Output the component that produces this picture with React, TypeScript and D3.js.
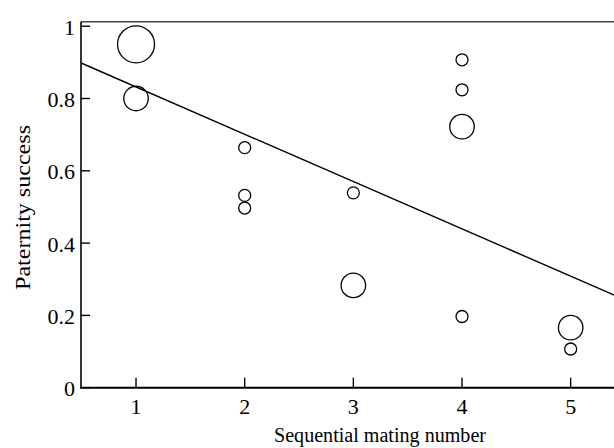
import React from "react";
import * as d3 from "d3";

const matingNumber = [1, 1, 2, 2, 2, 3, 3, 4, 4, 4, 4, 5, 5];
const paternity = [0.95, 0.8, 0.664, 0.532, 0.497, 0.539, 0.283, 0.907, 0.824, 0.722, 0.197, 0.166, 0.107];
const sizeClass = [3, 2, 1, 1, 1, 1, 2, 1, 1, 2, 1, 2, 1];
const xTicks = [1, 2, 3, 4, 5];
const yTicks = [0, 0.2, 0.4, 0.6, 0.8, 1];
const yTickLabels = ["0", "0.2", "0.4", "0.6", "0.8", "1"];
const fitIntercept = 0.963;
const fitSlope = -0.1309;
const xTitle = "Sequential mating number";
const yTitle = "Paternity success";

const W = 614;
const H = 448;

export default function App() {
  const x = d3.scaleLinear().domain([0.5, 5.5]).range([81.7, 625]);
  const y = d3.scaleLinear().domain([0, 1]).range([387.7, 26.2]);
  const r = d3.scaleLinear().domain([1, 3]).range([6, 18.5]);
  const fit = d3
    .line<number>()
    .x((d) => x(d))
    .y((d) => y(fitIntercept + fitSlope * d));
  const left = 81;
  const font = "'Liberation Serif', 'Times New Roman', serif";
  return (
    <svg
      width={W}
      height={H}
      style={{ position: "absolute", left: 0, top: 0, background: "#fff" }}
      fontFamily={font}
    >
      <defs>
        <clipPath id="plot">
          <rect x={left} y={0} width={W - left} height={y(0)} />
        </clipPath>
      </defs>
      <line x1={left} x2={W} y1={y(1.012)} y2={y(1.012)} stroke="#444" strokeWidth={1.5} />
      <path
        d={fit([0.5, 5.5]) || ""}
        fill="none"
        stroke="#000"
        strokeWidth={1.4}
        clipPath="url(#plot)"
      />
      {matingNumber.map((m, i) => (
        <circle
          key={i}
          cx={x(m)}
          cy={y(paternity[i])}
          r={r(sizeClass[i])}
          fill="none"
          stroke="#000"
          strokeWidth={1.3}
        />
      ))}
      <line x1={left} x2={left} y1={y(1.012)} y2={y(0)} stroke="#000" strokeWidth={1.6} />
      <line x1={left - 1} x2={W} y1={y(0)} y2={y(0)} stroke="#000" strokeWidth={2} />
      {yTicks.map((t, i) => (
        <g key={"y" + i}>
          <line x1={left} x2={left + 9} y1={y(t)} y2={y(t)} stroke="#000" strokeWidth={1.4} />
          <text x={75} y={y(t) + 8.5} textAnchor="end" fontSize={22} fill="#000">
            {yTickLabels[i]}
          </text>
        </g>
      ))}
      {xTicks.map((t) => (
        <g key={"x" + t}>
          <line x1={x(t)} x2={x(t)} y1={y(0)} y2={y(0) - 10} stroke="#000" strokeWidth={1.4} />
          <text x={x(t)} y={413.5} textAnchor="middle" fontSize={22} fill="#000">
            {t}
          </text>
        </g>
      ))}
      <text
        x={380}
        y={442}
        textAnchor="middle"
        fontSize={20}
        fill="#000"
        textLength={212}
        lengthAdjust="spacingAndGlyphs"
      >
        {xTitle}
      </text>
      <text
        transform={`translate(30,${207.5}) rotate(-90)`}
        textAnchor="middle"
        fontSize={22}
        fill="#000"
        textLength={165}
        lengthAdjust="spacingAndGlyphs"
      >
        {yTitle}
      </text>
    </svg>
  );
}
